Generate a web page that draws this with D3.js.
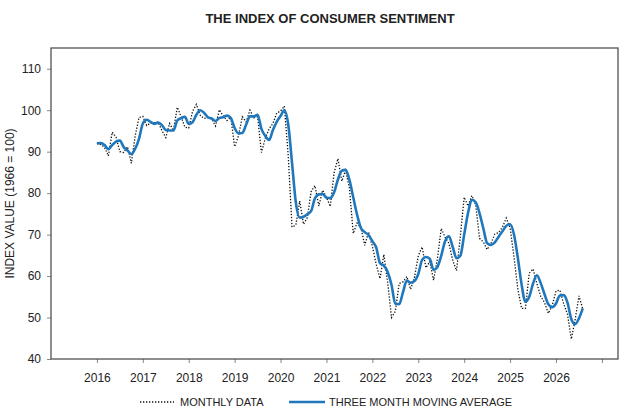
<!DOCTYPE html>
<html>
<head>
<meta charset="utf-8">
<script src="https://cdn.jsdelivr.net/npm/d3@7"></script>
<style>
  body { margin: 0; background: #fff; }
  text { font-family: "Liberation Sans", Arial, sans-serif; fill: #222; }
  .axis path, .axis line { stroke: #888; }
  .axis text { font-size: 12px; }
</style>
</head>
<body>
<svg id="chart" width="631" height="417"></svg>
<script>
var startYear = 2016;
// monthly values, Jan 2016 onward
var monthly = [
  92.0, 91.7, 91.0, 89.0, 94.7, 93.5, 90.0, 89.8, 91.2, 87.2, 93.8, 98.2,
  98.5, 96.3, 96.9, 97.0, 97.1, 95.1, 93.4, 96.8, 95.1, 100.7, 98.5, 95.9,
  95.7, 99.7, 101.4, 98.8, 98.0, 98.2, 97.9, 96.2, 100.1, 98.6, 97.5, 98.3,
  91.2, 93.8, 98.4, 97.2, 100.0, 98.2, 98.4, 89.8, 93.2, 95.5, 96.8, 99.3,
  99.8, 101.0, 89.1, 71.8, 72.3, 78.1, 72.5, 74.1, 80.4, 81.8, 76.9, 80.7,
  79.0, 76.8, 84.9, 88.3, 82.9, 85.5, 81.2, 70.3, 72.8, 71.7, 67.4, 70.6,
  67.2, 62.8, 59.4, 65.2, 58.4, 50.0, 51.5, 58.2, 58.6, 59.9, 56.8, 59.7,
  64.9, 67.0, 62.0, 63.5, 59.0, 64.2, 71.5, 69.4, 67.9, 63.8, 61.3, 69.7,
  79.0, 76.9, 79.4, 77.2, 69.1, 68.2, 66.4, 67.9, 70.1, 70.5, 71.8, 74.0,
  71.7, 64.7, 57.0, 52.2, 52.2, 60.7, 61.7, 58.2, 55.1, 53.6, 51.0, 52.9,
  56.4, 56.6, 53.3, 50.8, 44.8, 49.5, 55.2, 52.0
];
// three month moving average, Jan 2016 onward
var movingAvg = [
  92.0, 92.1, 91.6, 90.6, 91.6, 92.4, 92.7, 91.1, 90.3, 89.4, 90.7, 93.1,
  96.8, 97.7, 97.2, 96.7, 97.0, 96.4, 95.2, 95.1, 95.1, 97.5, 98.1, 98.4,
  96.7, 97.1, 98.9, 100.0, 99.4, 98.3, 98.0, 97.4, 98.1, 98.3, 98.7, 98.1,
  95.7, 94.4, 94.5, 96.5, 98.5, 98.5, 98.9, 95.5, 93.8, 92.8, 95.2, 97.2,
  98.6, 100.0, 96.6, 87.3, 77.7, 74.1, 74.3, 74.9, 75.7, 78.8, 79.7, 79.8,
  78.9, 78.8, 80.2, 83.3, 85.4, 85.6, 83.2, 79.0, 74.8, 71.6, 70.6, 69.9,
  68.4, 66.9, 63.1, 62.5, 61.0, 57.9, 53.3, 53.2, 56.1, 58.9, 58.4, 58.8,
  60.5, 63.9, 64.6, 64.2, 61.5, 62.2, 64.9, 68.4, 69.6, 67.0, 64.3, 64.9,
  70.0, 75.2, 78.4, 77.8, 75.2, 71.5, 67.9, 67.5, 68.1, 69.5, 70.8, 72.1,
  72.5, 70.1, 64.5, 58.0, 53.8, 55.0, 58.2, 60.2, 58.3, 55.6, 53.2, 52.5,
  53.4, 55.3, 55.4, 53.6, 49.6, 48.4, 49.8, 52.2
];
var yearTicks = [2016, 2017, 2018, 2019, 2020, 2021, 2022, 2023, 2024, 2025, 2026, 2027];
var yTicks = [40, 50, 60, 70, 80, 90, 100, 110];

var svg = d3.select('#chart');
var plotLeft = 51, plotRight = 618, plotTop = 48, plotBottom = 359;

var xScale = d3.scaleLinear().domain([2015, 2027.35]).range([plotLeft, plotRight]);
var yScale = d3.scaleLinear().domain([40, 115]).range([plotBottom, plotTop]);

function t(i) { return startYear + i / 12; }

svg.append('text')
  .attr('x', 330).attr('y', 23)
  .attr('text-anchor', 'middle')
  .style('font-size', '13px').style('font-weight', 'bold')
  .text('THE INDEX OF CONSUMER SENTIMENT');

svg.append('g')
  .attr('class', 'axis')
  .attr('transform', 'translate(0,' + plotBottom + ')')
  .call(d3.axisBottom(xScale).tickValues(yearTicks).tickSize(4)
    .tickFormat(function (d) { return d === 2027 ? '' : d; }))
  .call(function (g) { g.select('.domain').remove(); })
  .selectAll('text').attr('dy', '1.3em');

svg.append('g')
  .attr('class', 'axis')
  .attr('transform', 'translate(' + plotLeft + ',0)')
  .call(d3.axisLeft(yScale).tickValues(yTicks).tickSize(4).tickPadding(6))
  .call(function (g) { g.select('.domain').remove(); });

svg.append('rect')
  .attr('x', plotLeft).attr('y', plotTop)
  .attr('width', plotRight - plotLeft).attr('height', plotBottom - plotTop)
  .attr('fill', 'none').attr('stroke', '#444').attr('stroke-width', 1.2);

svg.append('text')
  .attr('transform', 'translate(14,' + ((plotTop + plotBottom) / 2) + ') rotate(-90)')
  .attr('text-anchor', 'middle')
  .style('font-size', '12px')
  .text('INDEX VALUE (1966 = 100)');

var line = d3.line()
  .x(function (d, i) { return xScale(t(i)); })
  .y(function (d) { return yScale(d); });

svg.append('path')
  .datum(monthly)
  .attr('d', line)
  .attr('fill', 'none')
  .attr('stroke', '#111')
  .attr('stroke-width', 1.3)
  .attr('stroke-dasharray', '1.3,1.7');

svg.append('path')
  .datum(movingAvg)
  .attr('d', line.curve(d3.curveMonotoneX))
  .attr('fill', 'none')
  .attr('stroke', '#1f78be')
  .attr('stroke-width', 2.6);

// legend
var lg = svg.append('g').attr('transform', 'translate(0,402)');
lg.append('line').attr('x1', 140).attr('x2', 174).attr('y1', 0).attr('y2', 0)
  .attr('stroke', '#111').attr('stroke-width', 1.3).attr('stroke-dasharray', '1.3,1.7');
lg.append('text').attr('x', 180).attr('y', 4).style('font-size', '11px').text('MONTHLY DATA');
lg.append('line').attr('x1', 289).attr('x2', 325).attr('y1', 0).attr('y2', 0)
  .attr('stroke', '#1f78be').attr('stroke-width', 2.6);
lg.append('text').attr('x', 329).attr('y', 4).style('font-size', '11px').text('THREE MONTH MOVING AVERAGE');
</script>
</body>
</html>
